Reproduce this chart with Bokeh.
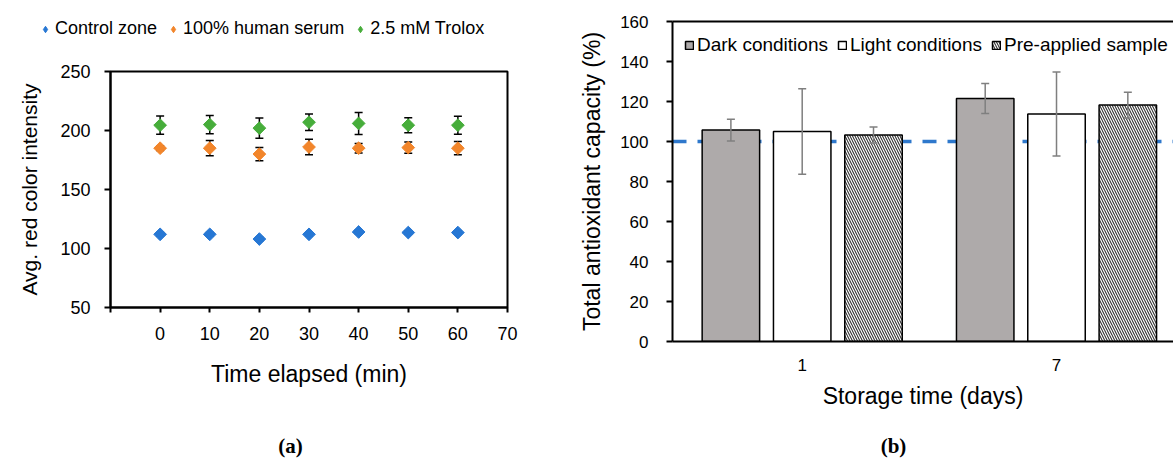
import numpy as np
from bokeh.plotting import figure
from bokeh.models import (Range1d, FixedTicker, Legend, LegendItem, Whisker, TeeHead,
                          ColumnDataSource, Span, Label, LinearAxis)
from bokeh.layouts import row, column
from bokeh.embed import file_html
from bokeh.resources import INLINE

# ---------------- data: panel (a) ----------------
time_min = [0, 10, 20, 30, 40, 50, 60]
control = [112, 112, 108, 112, 114, 113.5, 113.5]
control_err = [1.5, 1.5, 1.5, 1.5, 1.5, 1.5, 1.5]
serum = [185, 185, 180, 186, 185, 185.5, 185]
serum_err = [2, 6.5, 5.6, 6.6, 4, 4.7, 5.6]
trolox = [204.5, 205, 202, 207, 206, 204.5, 204.5]
trolox_err = [7.7, 7.7, 8.5, 7, 9.3, 6.4, 7.6]
series_a = ["Control zone", "100% human serum", "2.5 mM Trolox"]
a_xticks = [-10, 0, 10, 20, 30, 40, 50, 60, 70]
a_yticks = [50, 100, 150, 200, 250]

# ---------------- data: panel (b) ----------------
storage_days = ["1", "7"]
conditions = ["Dark conditions", "Light conditions", "Pre-applied sample"]
dark = [105.7, 121.5]
dark_err = [5.4, 7.5]
light = [105, 113.8]
light_err = [21.4, 21]
pre = [103.3, 118.2]
pre_err = [4, 6.4]
b_yticks = [0, 20, 40, 60, 80, 100, 120, 140, 160]
reference_level = 100
captions = ["(a)", "(b)"]

FONT = "Liberation Sans"
BLUE, ORANGE, GREEN = "#2677D4", "#F2852A", "#46AD3A"
COLORS_A = [BLUE, ORANGE, GREEN]


def style_axis(ax, size):
    ax.axis_line_width = 2
    ax.axis_line_color = "black"
    ax.major_tick_line_width = 2
    ax.major_tick_in = 0
    ax.minor_tick_line_color = None
    ax.major_label_text_font = FONT
    ax.major_label_text_font_size = size
    ax.major_label_text_color = "black"
    ax.axis_label_text_font = FONT
    ax.axis_label_text_font_style = "normal"
    ax.axis_label_text_color = "black"


def blank_fig(w, h):
    f = figure(width=w, height=h, x_range=Range1d(0, w), y_range=Range1d(0, h),
               output_backend="svg", toolbar_location=None, frame_align=False,
               x_axis_type=None, y_axis_type=None, min_border=0)
    f.outline_line_color = None
    f.xgrid.visible = False
    f.ygrid.visible = False
    return f


# ================= legend strip for panel (a) =================
LEG_H = 48
leg_fig = blank_fig(560, LEG_H)
leg_items = []
for name, vals, col in zip(series_a, [control, serum, trolox], COLORS_A):
    # legend proxy: first real point, lies outside this strip's range so only the legend shows it
    proxy = leg_fig.scatter(x=time_min[:1], y=vals[:1], marker="diamond",
                            size=12, fill_color=col, line_color=col)
    leg_items.append(LegendItem(label=name, renderers=[proxy]))
leg_a = Legend(items=leg_items, location=(37, 9), orientation="horizontal",
               label_text_font=FONT, label_text_font_size="18px", label_text_color="black",
               label_standoff=2, glyph_width=16, glyph_height=20, spacing=8, padding=0,
               margin=0, label_height=20, background_fill_alpha=0, border_line_alpha=0)
leg_fig.add_layout(leg_a, "center")

MAIN_H = 425

# ================= panel (a) =================
pa = figure(width=560, height=MAIN_H - LEG_H, x_range=Range1d(-10, 70), y_range=Range1d(50, 250),
            output_backend="svg", toolbar_location=None, frame_align=False,
            min_border_left=110, min_border_right=53, min_border_top=71 - LEG_H,
            min_border_bottom=MAIN_H - 307)
pa.xgrid.visible = False
pa.ygrid.visible = False
pa.outline_line_color = "black"
pa.outline_line_width = 2

for ax in (pa.xaxis[0], pa.yaxis[0]):
    style_axis(ax, "18px")
pa.xaxis.ticker = FixedTicker(ticks=a_xticks)
pa.xaxis.major_label_overrides = {-10: ""}
pa.xaxis.major_tick_out = 5
pa.xaxis.major_label_standoff = 14
pa.xaxis.axis_label = "Time elapsed (min)"
pa.xaxis.axis_label_text_font_size = "23px"
pa.xaxis.axis_label_standoff = 18
pa.yaxis.ticker = FixedTicker(ticks=a_yticks)
pa.yaxis.major_tick_out = 6
pa.yaxis.major_label_standoff = 14
pa.yaxis.axis_label = "Avg. red color intensity"
pa.yaxis.axis_label_text_font_size = "21px"
pa.yaxis.axis_label_standoff = 16

for vals, errs, col in zip([control, serum, trolox],
                           [control_err, serum_err, trolox_err], COLORS_A):
    src = ColumnDataSource(dict(x=time_min, y=vals,
                                lo=[v - e for v, e in zip(vals, errs)],
                                hi=[v + e for v, e in zip(vals, errs)]))
    pa.add_layout(Whisker(base="x", lower="lo", upper="hi", source=src, line_color="black",
                          line_width=1.5, level="underlay",
                          upper_head=TeeHead(size=8, line_width=1.5, line_color="black"),
                          lower_head=TeeHead(size=8, line_width=1.5, line_color="black")))
    pa.scatter("x", "y", source=src, marker="square", angle=np.pi / 4, size=9,
               fill_color=col, line_color=col)

# ================= panel (b) =================
pb = figure(width=613, height=MAIN_H, x_range=Range1d(0.49, 2.46), y_range=Range1d(0, 160),
            output_backend="svg", toolbar_location=None, frame_align=False,
            min_border_left=112, min_border_right=0, min_border_top=21,
            min_border_bottom=MAIN_H - 341)
pb.xgrid.visible = False
pb.ygrid.visible = False
pb.outline_line_color = None

for ax in (pb.xaxis[0], pb.yaxis[0]):
    style_axis(ax, "17px")
pb.xaxis.ticker = FixedTicker(ticks=[i + 1 for i in range(len(storage_days))])
pb.xaxis.major_label_overrides = {i + 1: d for i, d in enumerate(storage_days)}
pb.xaxis.major_tick_out = 0
pb.xaxis.major_label_standoff = 17
pb.xaxis.axis_label = "Storage time (days)"
pb.xaxis.axis_label_text_font_size = "23px"
pb.xaxis.axis_label_standoff = 9
pb.yaxis.ticker = FixedTicker(ticks=b_yticks)
pb.yaxis.major_tick_out = 6
pb.yaxis.major_label_standoff = 18
pb.yaxis.axis_label = "Total antioxidant capacity (%)"
pb.yaxis.axis_label_text_font_size = "23px"
pb.yaxis.axis_label_standoff = 12

top_axis = LinearAxis(ticker=FixedTicker(ticks=[]), axis_line_width=2, axis_line_color="black",
                      major_tick_in=0, major_tick_out=0, minor_tick_line_color=None,
                      major_label_text_font_size="0px", major_label_standoff=0,
                      axis_label_standoff=0)
pb.add_layout(top_axis, "above")

pb.add_layout(Span(location=reference_level, dimension="width", line_color="#2E78CC",
                   line_width=3.5, line_dash="14 11", level="underlay"))

bw = 0.226
offsets = [-0.2804, 0.0, 0.2804]
fills = ["#AEAAAA", "white", "white"]
hatches = [None, None, "left_diagonal_line"]
bitems = []
for cond, vals, errs, off, fc, hp in zip(conditions, [dark, light, pre],
                                         [dark_err, light_err, pre_err], offsets, fills, hatches):
    xs = [i + 1 + off for i in range(len(storage_days))]
    src = ColumnDataSource(dict(x=xs, top=vals,
                                lo=[v - e for v, e in zip(vals, errs)],
                                hi=[v + e for v, e in zip(vals, errs)]))
    kw = {}
    if hp:
        kw = dict(hatch_pattern=hp, hatch_scale=5, hatch_weight=1.1, hatch_color="#333333")
    r = pb.vbar(x="x", top="top", width=bw, bottom=0, source=src, fill_color=fc,
                line_color="black", line_width=1.5, **kw)
    pb.add_layout(Whisker(base="x", lower="lo", upper="hi", source=src, line_color="#7F7F7F",
                          line_width=1.5, level="annotation",
                          upper_head=TeeHead(size=8, line_width=1.5, line_color="#7F7F7F"),
                          lower_head=TeeHead(size=8, line_width=1.5, line_color="#7F7F7F")))
    bitems.append(LegendItem(label=cond, renderers=[r]))

leg_b = Legend(items=bitems, location=(12, 285), orientation="horizontal",
               label_text_font=FONT, label_text_font_size="19px", label_text_color="black",
               label_standoff=3, glyph_width=10, glyph_height=10, spacing=9, padding=0,
               margin=0, label_height=20, background_fill_alpha=0, border_line_alpha=0)
pb.add_layout(leg_b, "center")

# ================= caption strip =================
CAP_H = 459 - MAIN_H
cap_fig = blank_fig(1173, CAP_H)
for txt, cx in zip(captions, [290, 893]):
    cap_fig.add_layout(Label(x=cx, y=CAP_H - 20, text=txt, text_align="center",
                             text_baseline="middle", text_font="Liberation Serif",
                             text_font_size="21px", text_font_style="bold", text_color="black"))

layout = column(row(column(leg_fig, pa), pb), cap_fig)
open("out.html", "w").write(file_html(layout, INLINE))
